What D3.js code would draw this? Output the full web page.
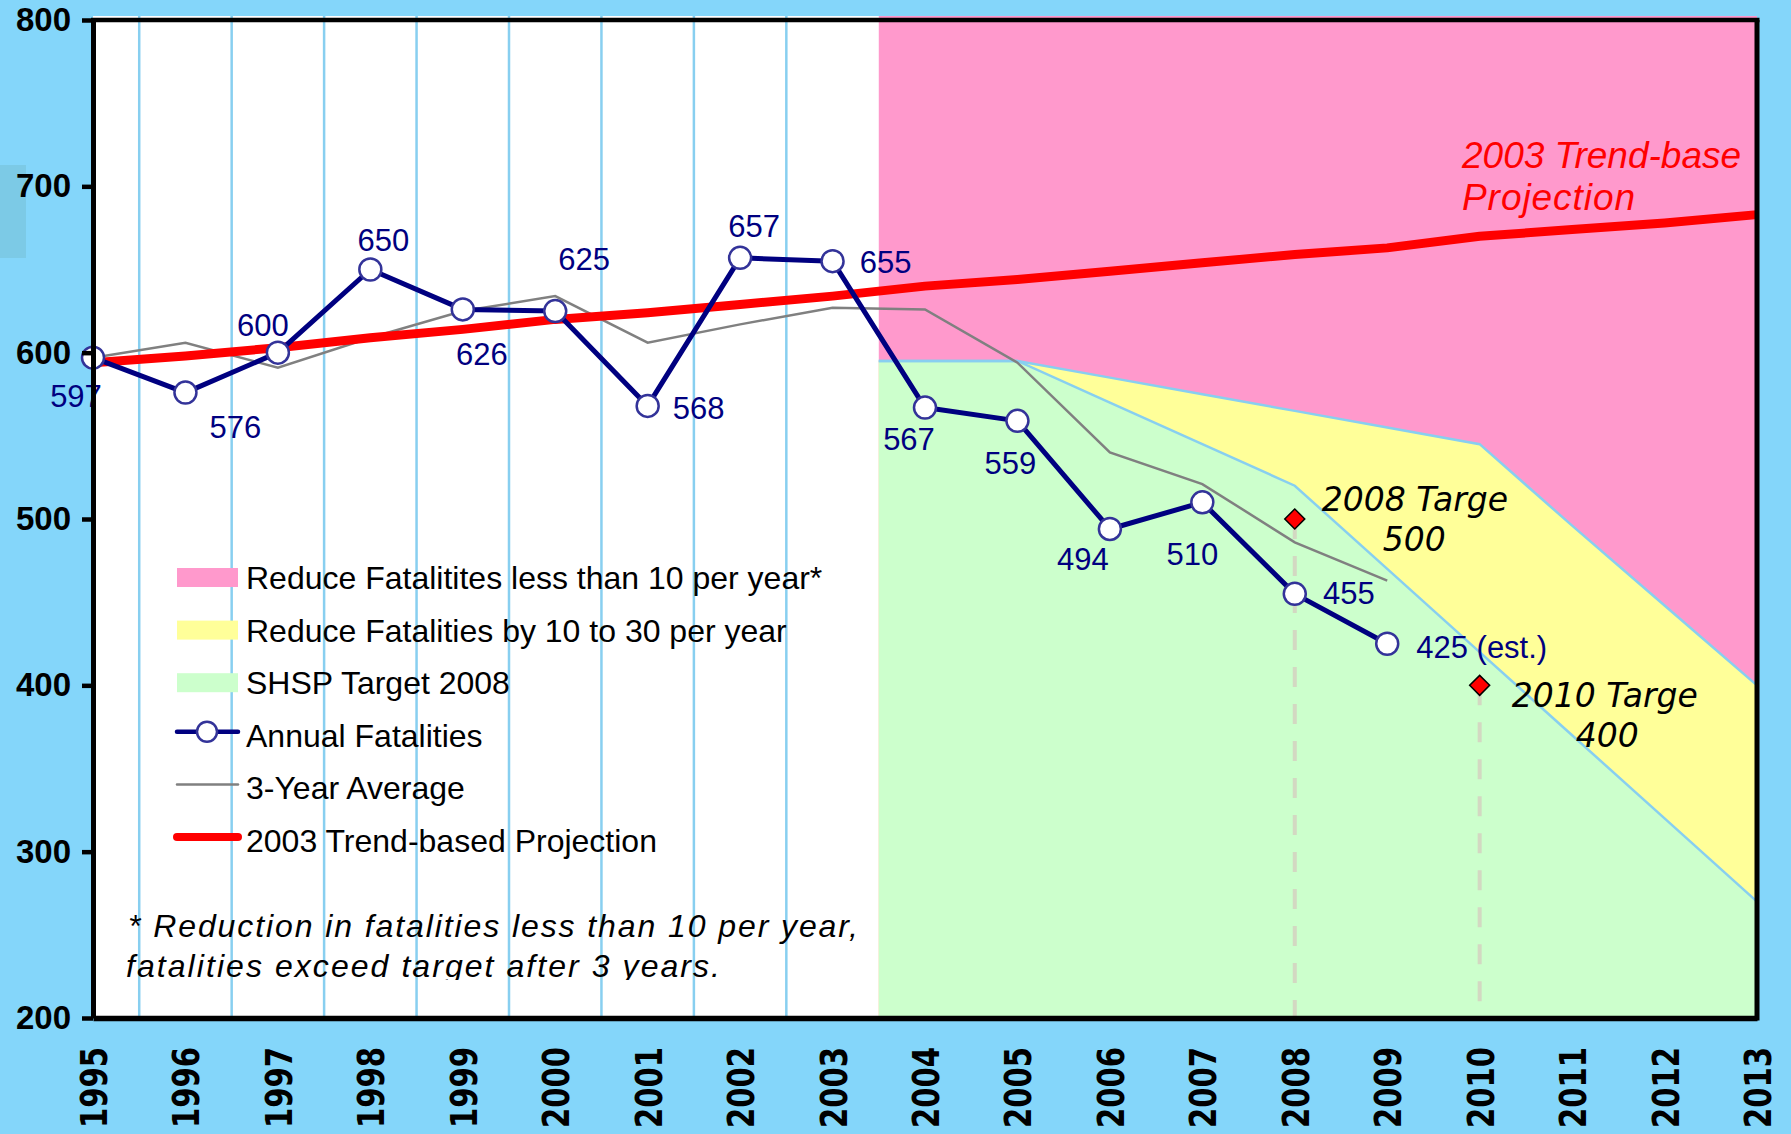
<!DOCTYPE html>
<html>
<head>
<meta charset="utf-8">
<script src="https://cdn.jsdelivr.net/npm/d3@7"></script>
<style>
  html, body { margin: 0; padding: 0; background: #84d6fa; }
  svg { display: block; }
</style>
</head>
<body>
<svg id="chart" width="1791" height="1134" font-family="Liberation Sans, Arial, sans-serif"></svg>
<script>
/* chart values */
var years = [1995, 1996, 1997, 1998, 1999, 2000, 2001, 2002, 2003, 2004, 2005, 2006, 2007, 2008, 2009];
var annualFatalities = [597, 576, 600, 650, 626, 625, 568, 657, 655, 567, 559, 494, 510, 455, 425];
var annualLabels = ["597", "576", "600", "650", "626", "625", "568", "657", "655", "567", "559", "494", "510", "455", "425 (est.)"];
var threeYearAverage = [597, 606, 591, 609, 625, 634, 606, 617, 627, 626, 594, 540, 521, 486, 463];

var trendYears = [1995, 1996, 1997, 1998, 1999, 2000, 2001, 2002, 2003, 2004, 2005, 2006, 2007, 2008, 2009, 2010, 2011, 2012, 2013];
var trendProjection = [594, 598, 603, 609, 614, 620, 624, 629, 634, 640, 644, 649, 654, 659, 663, 670, 674, 678, 683];

// coloured target zones start half way through 2003
var zoneYears = [2003.5, 2005, 2006, 2007, 2008, 2009, 2010, 2011, 2012, 2013];
var reduce10to30Top = [595, 595, 585, 575, 565, 555, 545, 496, 448, 400];
var shspTargetTop = [595, 595, 570, 545, 520, 470, 420, 370, 320, 270];

var targetYears = [2008, 2010];
var targetValues = [500, 400];
var targetNames = ["2008 Target", "2010 Target"];

var yTicks = [200, 300, 400, 500, 600, 700, 800];
var xTicks = [1995, 1996, 1997, 1998, 1999, 2000, 2001, 2002, 2003, 2004, 2005, 2006, 2007, 2008, 2009, 2010, 2011, 2012, 2013];
var gridYears = [1995.5, 1996.5, 1997.5, 1998.5, 1999.5, 2000.5, 2001.5, 2002.5];

var legendNames = ["Reduce Fatalitites less than 10 per year*", "Reduce Fatalities by 10 to 30 per year",
	"SHSP Target 2008", "Annual Fatalities", "3-Year Average", "2003 Trend-based Projection"];

/* layout tweaks for the point labels: [dx, dy] from the point to the label centre */
var labelOffsets = [[-17, 38], [50, 34], [-15, -28], [13, -30], [19, 45], [29, -52], [51, 2], [14, -32],
	[53, 1], [-16, 31], [-7, 42], [-27, 30], [-10, 52], [54, -1], [29, 3]];
// target notes: [dx, baseline dy] for the name line and for the value line
var targetNoteOffsets = [[27, -8, 88, 32], [32, 22, 96, 62]];

var BLUE_BG = "#84d6fa",
	PINK = "#ff99cc",
	YELLOW = "#ffff99",
	GREEN = "#ccffcc",
	NAVY = "#000080";

var svg = d3.select("#chart");

var x = d3.scaleLinear().domain([1995, 2013]).range([93, 1757]);
var y = d3.scaleLinear().domain([200, 800]).range([1018, 20]);

var defs = svg.append("defs");
function addClip(id, x0, y0, w, h) {
	defs.append("clipPath").attr("id", id)
		.append("rect").attr("x", x0).attr("y", y0).attr("width", w).attr("height", h);
}
addClip("clipTrendText", 0, 0, 1741, 1134);
addClip("clipT0", 0, 0, 1508, 1134);
addClip("clipT1", 0, 0, 1698, 1134);
addClip("clipNote", 0, 0, 1791, 980);

// background and the odd darker patch left of the 700 label
svg.append("rect").attr("width", 1791).attr("height", 1134).attr("fill", BLUE_BG);
svg.append("rect").attr("x", 0).attr("y", 165).attr("width", 26).attr("height", 93).attr("fill", "#7ccae6");

// white plot area
svg.append("rect")
	.attr("x", x(1995)).attr("y", 16)
	.attr("width", x(2013) - x(1995)).attr("height", y(200) - 16)
	.attr("fill", "#ffffff");

// light blue vertical gridlines between the years
svg.append("g").selectAll("line")
	.data(gridYears)
	.enter().append("line")
	.attr("x1", function(d) { return x(d); })
	.attr("x2", function(d) { return x(d); })
	.attr("y1", 16).attr("y2", y(200))
	.attr("stroke", "#88cff0")
	.attr("stroke-width", 2.5);

/* target zones: pink everything, yellow and green drawn over it */
svg.append("rect")
	.attr("x", x(2003.5)).attr("y", 16)
	.attr("width", x(2013) - x(2003.5)).attr("height", y(200) - 16)
	.attr("fill", PINK);

var zoneArea = function(tops) {
	return d3.area()
		.x(function(d, i) { return x(zoneYears[i]); })
		.y0(y(200))
		.y1(function(d) { return y(d); })(tops);
};
var zoneLine = function(tops) {
	return d3.line()
		.x(function(d, i) { return x(zoneYears[i]); })
		.y(function(d) { return y(d); })(tops);
};

svg.append("path").attr("d", zoneArea(reduce10to30Top)).attr("fill", YELLOW);
svg.append("path").attr("d", zoneArea(shspTargetTop)).attr("fill", GREEN);
[reduce10to30Top, shspTargetTop].forEach(function(tops) {
	svg.append("path").attr("d", zoneLine(tops))
		.attr("fill", "none").attr("stroke", "#88cff0").attr("stroke-width", 2.5);
});

// dashed drop lines under the targets
svg.append("g").selectAll("line")
	.data(targetYears)
	.enter().append("line")
	.attr("x1", function(d) { return x(d); })
	.attr("x2", function(d) { return x(d); })
	.attr("y1", function(d, i) { return y(targetValues[i]); })
	.attr("y2", y(200))
	.attr("stroke", "#d3d8c2")
	.attr("stroke-width", 4)
	.attr("stroke-dasharray", "20,17");

/* series lines */
var avgLine = d3.line()
	.x(function(d, i) { return x(years[i]); })
	.y(function(d) { return y(d); });
svg.append("path").attr("d", avgLine(threeYearAverage))
	.attr("fill", "none").attr("stroke", "#808080").attr("stroke-width", 2.5);

var trendLine = d3.line()
	.x(function(d, i) { return x(trendYears[i]); })
	.y(function(d) { return y(d); });
svg.append("path").attr("d", trendLine(trendProjection))
	.attr("fill", "none").attr("stroke", "#ff0000").attr("stroke-width", 9)
	.attr("stroke-linejoin", "round");

svg.append("path").attr("d", avgLine(annualFatalities))
	.attr("fill", "none").attr("stroke", NAVY).attr("stroke-width", 5)
	.attr("stroke-linejoin", "round");

svg.append("g").selectAll("circle")
	.data(annualFatalities)
	.enter().append("circle")
	.attr("cx", function(d, i) { return x(years[i]); })
	.attr("cy", function(d) { return y(d); })
	.attr("r", 11)
	.attr("fill", "#ffffff")
	.attr("stroke", "#333399")
	.attr("stroke-width", 2.5);

// point labels
svg.append("g").selectAll("text")
	.data(annualFatalities)
	.enter().append("text")
	.attr("x", function(d, i) { return x(years[i]) + labelOffsets[i][0]; })
	.attr("y", function(d, i) { return y(d) + labelOffsets[i][1] + 11; })
	.attr("text-anchor", function(d, i) { return i == years.length - 1 ? "start" : "middle"; })
	.attr("font-size", 31)
	.attr("fill", NAVY)
	.text(function(d, i) { return annualLabels[i]; });

/* target diamonds and their notes */
svg.append("g").selectAll("path")
	.data(targetValues)
	.enter().append("path")
	.attr("d", d3.symbol(d3.symbolSquare, 200))
	.attr("transform", function(d, i) { return "translate(" + x(targetYears[i]) + "," + y(d) + ") rotate(45)"; })
	.attr("fill", "#ff0000")
	.attr("stroke", "#000000")
	.attr("stroke-width", 1.5);

targetValues.forEach(function(v, i) {
	var off = targetNoteOffsets[i];
	var g = svg.append("g").attr("clip-path", "url(#clipT" + i + ")")
		.attr("font-family", "DejaVu Sans, sans-serif")
		.attr("font-style", "italic")
		.attr("font-size", 33)
		.attr("fill", "#000000");
	g.append("text")
		.attr("x", x(targetYears[i]) + off[0])
		.attr("y", y(v) + off[1])
		.text(targetNames[i]);
	g.append("text")
		.attr("x", x(targetYears[i]) + off[2])
		.attr("y", y(v) + off[3])
		.text(v);
});

// red label for the projection line
var trendNote = svg.append("g").attr("clip-path", "url(#clipTrendText)")
	.attr("font-style", "italic").attr("font-size", 37).attr("fill", "#ff0000");
trendNote.append("text").attr("x", 1462).attr("y", 168).text("2003 Trend-based");
trendNote.append("text").attr("x", 1462).attr("y", 210)
	.attr("textLength", 173).attr("lengthAdjust", "spacing")
	.text("Projection");

/* legend */
var legend = svg.append("g").attr("transform", "translate(177,0)");
legendNames.forEach(function(name, i) {
	var base = 589 + i * 52.6;
	if (i < 3) {
		legend.append("rect")
			.attr("x", 0).attr("y", base - 21)
			.attr("width", 61).attr("height", 19)
			.attr("fill", [PINK, YELLOW, GREEN][i]);
	} else {
		var colour = [NAVY, "#808080", "#ff0000"][i - 3],
			width = [4.5, 2.5, 8][i - 3];
		legend.append("line")
			.attr("x1", 0).attr("x2", 61)
			.attr("y1", base - 15).attr("y2", base - 15)
			.attr("stroke", colour).attr("stroke-width", width)
			.attr("stroke-linecap", "round");
		if (i == 3) {
			legend.append("circle")
				.attr("cx", 30).attr("cy", base - 15).attr("r", 10)
				.attr("fill", "#ffffff").attr("stroke", "#333399").attr("stroke-width", 2.5);
		}
	}
	legend.append("text")
		.attr("x", 69).attr("y", base)
		.attr("font-size", 32)
		.attr("fill", "#000000")
		.text(name);
});

// footnote, clipped at the bottom like the original
var note = svg.append("g").attr("clip-path", "url(#clipNote)")
	.attr("font-style", "italic").attr("font-size", 32).attr("fill", "#000000");
note.append("text").attr("x", 128).attr("y", 937)
	.attr("textLength", 730).attr("lengthAdjust", "spacing")
	.text("* Reduction in fatalities less than 10 per year,");
note.append("text").attr("x", 126).attr("y", 977)
	.attr("textLength", 594).attr("lengthAdjust", "spacing")
	.text("fatalities exceed target after 3 years.");

/* axes and frame */
var yAxis = svg.append("g")
	.attr("transform", "translate(" + x(1995) + ",0)")
	.call(d3.axisLeft(y).tickValues(yTicks).tickSize(11).tickSizeOuter(0).tickPadding(11));
yAxis.select(".domain").attr("stroke", "#000").attr("stroke-width", 5);
yAxis.selectAll(".tick line").attr("stroke", "#000").attr("stroke-width", 4.5);
yAxis.selectAll(".tick text")
	.attr("font-family", "Liberation Sans, Arial, sans-serif")
	.attr("font-weight", "bold")
	.attr("font-size", 33)
	.attr("fill", "#000");

var xAxis = svg.append("g")
	.attr("transform", "translate(0," + y(200) + ")")
	.call(d3.axisBottom(x).tickValues(xTicks).tickSize(0).tickSizeOuter(0).tickFormat(d3.format("d")));
xAxis.select(".domain").attr("stroke", "#000").attr("stroke-width", 5.5);
xAxis.selectAll(".tick text")
	.attr("x", 0).attr("y", 0).attr("dy", 0)
	.attr("transform", "translate(13.5,29) rotate(-90)")
	.attr("text-anchor", "end")
	.attr("font-family", "DejaVu Sans, sans-serif")
	.attr("font-weight", "bold")
	.attr("font-size", 37)
	.attr("textLength", 81)
	.attr("lengthAdjust", "spacingAndGlyphs")
	.attr("fill", "#000");

// top and right border of the plot
svg.append("line")
	.attr("x1", x(1995) - 2).attr("x2", x(2013) + 2.5)
	.attr("y1", y(800)).attr("y2", y(800))
	.attr("stroke", "#000").attr("stroke-width", 4.5);
svg.append("line")
	.attr("x1", x(2013)).attr("x2", x(2013))
	.attr("y1", y(800)).attr("y2", y(200) + 2.5)
	.attr("stroke", "#000").attr("stroke-width", 5);
</script>
</body>
</html>
